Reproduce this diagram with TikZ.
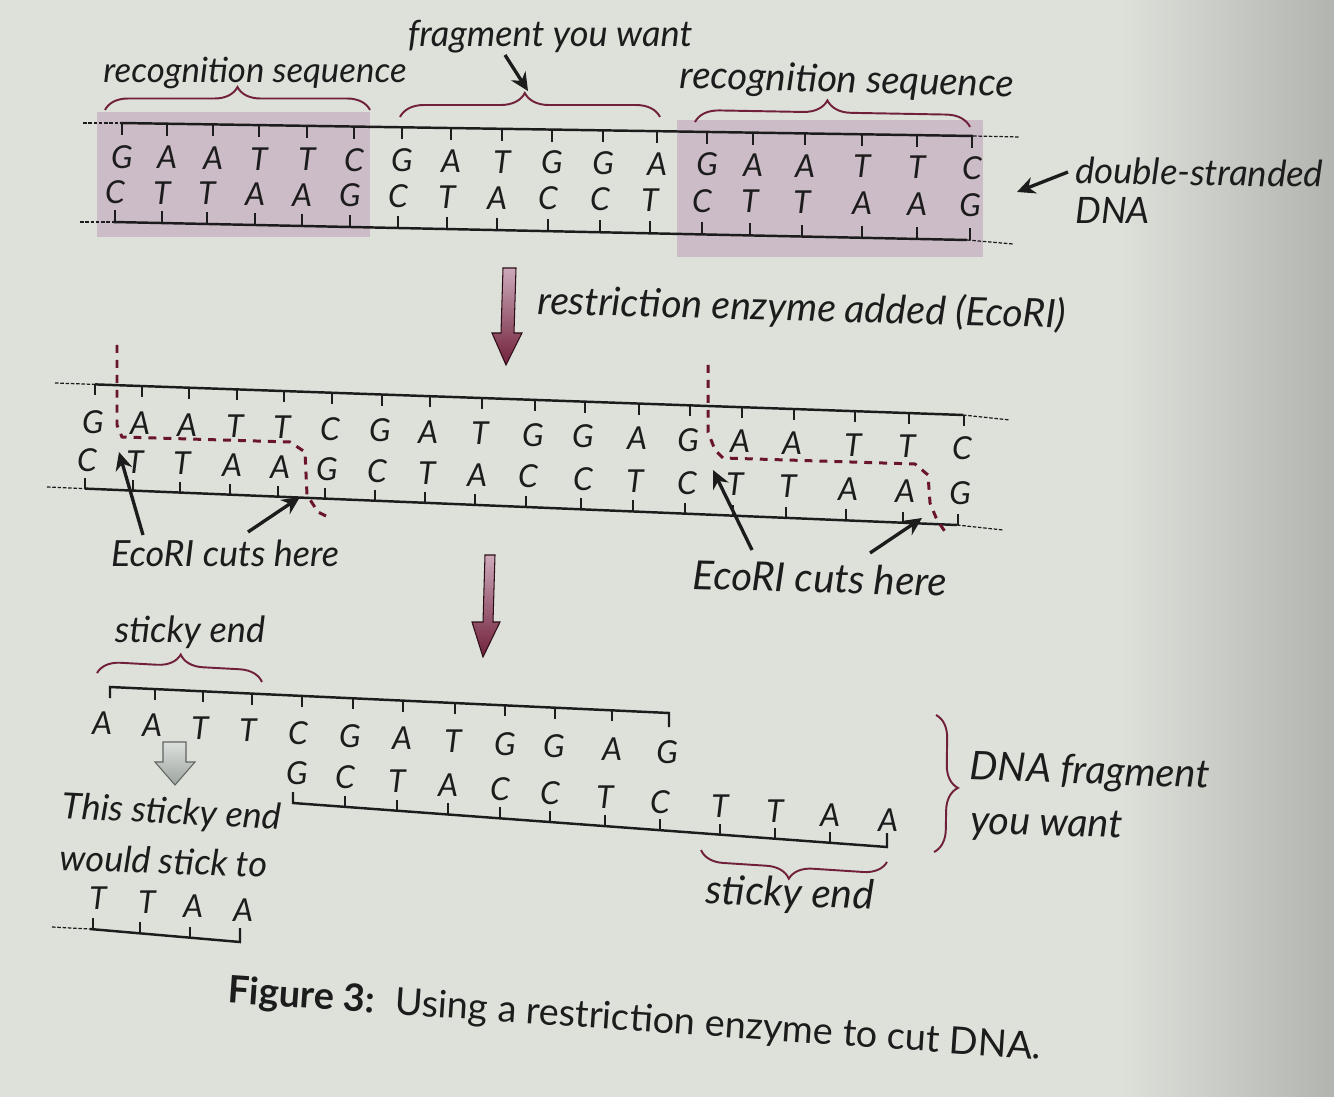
\documentclass[tikz,border=0pt]{standalone}
\usepackage{fontspec}
\setmainfont{Lato}
\usetikzlibrary{decorations.pathreplacing,arrows.meta}
\definecolor{paper}{RGB}{221,225,218}
\definecolor{shadow}{RGB}{178,181,175}
\definecolor{mauve}{RGB}{204,188,199}
\definecolor{maroon}{RGB}{112,32,58}
\definecolor{arrowtop}{RGB}{205,170,186}
\definecolor{cutred}{RGB}{105,22,42}
\definecolor{ink}{RGB}{28,28,28}
\definecolor{greyarrow}{RGB}{196,204,198}
\definecolor{greyline}{RGB}{95,100,96}
\begin{document}
\begin{tikzpicture}[x=0.02cm,y=-0.02cm,
  lbl/.style={font=\fontsize{#1}{#1}\selectfont\itshape, inner sep=0pt, text=ink},
  lbl/.default=20.5,
  nuc/.style={font=\fontsize{18}{18}\selectfont\itshape, inner sep=0pt, text=ink, anchor=center},
  strand/.style={draw=ink, line width=1.4pt, line join=miter},
  strandend/.style={draw=ink, line width=0.7pt, dash pattern=on 2pt off 1pt},
  tick/.style={draw=ink, line width=1.1pt},
  brc/.style={draw=maroon, line width=1.1pt, decorate,
     decoration={brace, amplitude=#1, aspect=0.5}},
  cut/.style={draw=cutred, line width=1.7pt, dash pattern=on 4.5pt off 4pt},
  arr/.style={draw=ink, line width=1.9pt, -{Stealth[length=0.36cm, width=0.34cm]}},
  bigarrow/.style={top color=arrowtop, bottom color=maroon, draw=black!60!maroon, line width=0.6pt},
]
\useasboundingbox (0,0) rectangle (1334,1097);
\fill[paper] (0,0) rectangle (1334,1097);
\shade[left color=paper, right color=shadow] (1120,0) rectangle (1334,1097);

% ---------- panel 1 ----------
\fill[mauve] (97,112) rectangle (370,237);
\fill[mauve] (677,120) rectangle (983,257);

\draw[strandend] (83,123) -- (120,123);
\draw[strand] (120,123) -- (973,136);
\draw[strandend] (973,136) -- (1020,137);
\draw[strandend] (80,222) -- (113,222);
\draw[strand] (113,222) -- (967,240);
\draw[strandend] (967,240) -- (1013,244);

\foreach \x/\l [count=\i] in {122/G,167/A,213/A,259/T,307/T,354/C,402/G,451/A,502/T,552/G,603/G,657/A,707/G,753/A,805/A,862/T,917/T,972/C}{
  \draw[tick] (\x,{123+(\x-120)*(13/853)}) -- ++(0,12);
  \node[nuc] (a\i) at (\x,{157+(\x-122)*(11/850)}) {\l};
}
\foreach \x/\l [count=\i] in {115/C,162/T,207/T,255/A,302/A,350/G,398/C,447/T,497/A,548/C,600/C,650/T,702/C,750/T,802/T,862/A,917/A,970/G}{
  \draw[tick] (\x,{222+(\x-113)*(18/854)}) -- ++(0,-12);
  \node[nuc] (b\i) at (\x,{192+(\x-115)*(13/855)}) {\l};
}

% braces and labels, panel 1
\draw[brc=0.46cm] (105,110) -- (370,110);
\draw[brc=0.48cm, decoration={aspect=0.48}] (400,117) -- (660,117);
\draw[brc=0.48cm, decoration={aspect=0.48}] (695,122) -- (970,127);
\node[lbl=19.8] (rs1) at (255,73) {recognition sequence};
\node[lbl=20.6] (fyw) at (550,37) {fragment you want};
\node[lbl=21.8, rotate=-1.5] (rs2) at (847,82) {recognition sequence};
\coordinate (fa1) at (505,55);
\coordinate (fa2) at (528,91);
\draw[arr] (fa1) -- (fa2);

\node[lbl=20.7, anchor=base west, rotate=-1] (ds1) at (1075,183) {double-stranded};
\node[lbl=20.7, anchor=base west] (ds2) at (1075,224) {DNA};
\coordinate (da1) at (1068,172);
\coordinate (da2) at (1017,192);
\draw[arr] (da1) -- (da2);

% arrow 1
\shade[bigarrow] (503,268) -- (516,268) -- (514,333) -- (522,333) -- (506,365) -- (492,333) -- (501,333) -- cycle;
\node[lbl=22.3, anchor=base west, rotate=-1.5] (rea) at (537,314) {restriction enzyme added (EcoRI)};

% ---------- panel 2 ----------
\draw[strandend] (55,383) -- (95,384.4);
\draw[strand] (95,384.4) -- (963,415);
\draw[strandend] (963,415) -- (1010,420);
\draw[strandend] (47,487) -- (85,488.6);
\draw[strand] (85,488.6) -- (957,525);
\draw[strandend] (957,525) -- (1003,530);

\foreach \x/\l [count=\i] in {93/G,140/A,187/A,235/T,282/T,330/C,380/G,428/A,480/T,533/G,583/G,637/A,688/G,740/A,792/A,853/T,907/T,962/C}{
  \draw[tick] ({\x+2},{383+(\x+2-55)*(32/908)}) -- ++(0,11);
  \node[nuc] (c\i) at (\x,{422+(\x-93)*(26/869)}) {\l};
}
\foreach \x/\l [count=\i] in {87/C,135/T,182/T,232/A,280/A,327/G,377/C,427/T,477/A,528/C,583/C,635/T,687/C,735/T,788/T,848/A,905/A,960/G}{
  \draw[tick] ({\x-2},{487+(\x-2-47)*(38/910)}) -- ++(0,-11);
  \node[nuc] (d\i) at (\x,{460+(\x-87)*(33/873)}) {\l};
}

% cut lines
\draw[cut] (117,345) -- (117,425) -- (122,437) -- (290,442) -- (305,452) -- (307,495) -- (318,512) -- (330,518);
\draw[cut] (708,365) -- (708,432) -- (715,450) -- (723,458) -- (915,464) -- (928,475) -- (930,503) -- (937,520) -- (948,536);

\node[lbl=20.5] (eco1) at (225,553) {EcoRI cuts here};
\node[lbl=22.8, rotate=-1.5] (eco2) at (820,578) {EcoRI cuts here};
\coordinate (e1s) at (143,535); \coordinate (e1t) at (119,452);
\coordinate (e2s) at (248,532); \coordinate (e2t) at (300,497);
\coordinate (e3s) at (752,550); \coordinate (e3t) at (713,470);
\coordinate (e4s) at (870,553); \coordinate (e4t) at (922,518);
\draw[arr] (e1s) -- (e1t);
\draw[arr] (e2s) -- (e2t);
\draw[arr] (e3s) -- (e3t);
\draw[arr] (e4s) -- (e4t);

% arrow 2
\shade[bigarrow] (485,555) -- (495,555) -- (493,622) -- (500,622) -- (483,657) -- (472,622) -- (483,622) -- cycle;

% ---------- panel 3 ----------
\draw[strand] (110,698) -- (110,687) -- (669,713) -- (669,727);
\foreach \x in {155,203,252,302,353,403,455,505,555,612}{
  \draw[tick] (\x,{687+(\x-110)*(26/559)}) -- ++(0,11);
}
\foreach \x/\l [count=\i] in {102/A,152/A,200/T,248/T,298/C,350/G,402/A,453/T,505/G,554/G,612/A,667/G}{
  \node[nuc] (e\i) at (\x,{723+(\x-102)*(29/565)}) {\l};
}
\draw[strand] (293,792) -- (293,803) -- (887,847) -- (887,833);
\foreach \x in {345,397,448,500,550,605,660,720,775,830}{
  \draw[tick] (\x,{803+(\x-293)*(44/594)}) -- ++(0,-11);
}
\foreach \x/\l [count=\i] in {297/G,345/C,397/T,448/A,500/C,550/C,605/T,660/C,720/T,775/T,830/A,888/A}{
  \node[nuc] (f\i) at (\x,{773+(\x-297)*(47/591)}) {\l};
}

\draw[brc=0.46cm] (97,673) -- (262,682);
\node[lbl=20.6] (se1) at (190,632) {sticky end};
\draw[brc=0.46cm, decoration={aspect=0.52}] (887,862) -- (701,850);
\node[lbl=23, rotate=-2] (se2) at (790,895) {sticky end};
\draw[brc=0.46cm, decoration={aspect=0.53}] (936,715) -- (934,852);
\node[lbl=22.5, anchor=west, rotate=-2] (dfw1) at (970,769) {DNA fragment};
\node[lbl=22.5, anchor=west, rotate=-1.5] (dfw2) at (970,824) {you want};

% grey hollow arrow
\shade[top color=greyarrow!60!white, bottom color=greyarrow!80!black, draw=greyline, line width=0.6pt]
  (163,742) -- (186,742) -- (186,762) -- (195,762) -- (175,785) -- (155,762) -- (163,762) -- cycle;
\node[lbl=20.5, anchor=west, rotate=-3] (tse1) at (62,808) {This sticky end};
\node[lbl=20.5, anchor=west, rotate=-2] (tse2) at (60,857) {would stick to};

% TTAA
\draw[strandend] (52,927) -- (90,929);
\draw[strand] (90,929) -- (240,942) -- (240,928);
\foreach \x in {93,140,190}{
  \draw[tick] (\x,{929+(\x-90)*(13/150)}) -- ++(0,-11);
}
\foreach \x/\l [count=\i] in {98/T,147/T,193/A,243/A}{
  \node[nuc] (g\i) at (\x,{898+(\x-98)*(12/145)}) {\l};
}

% caption
\node[font=\fontsize{21.5}{24}\selectfont, text=ink, inner sep=0pt, anchor=west, rotate=-4] (cap) at (228,992)
  {\textbf{Figure 3:}\hspace{0.55em}Using a restriction enzyme to cut DNA.};
\end{tikzpicture}
\end{document}
